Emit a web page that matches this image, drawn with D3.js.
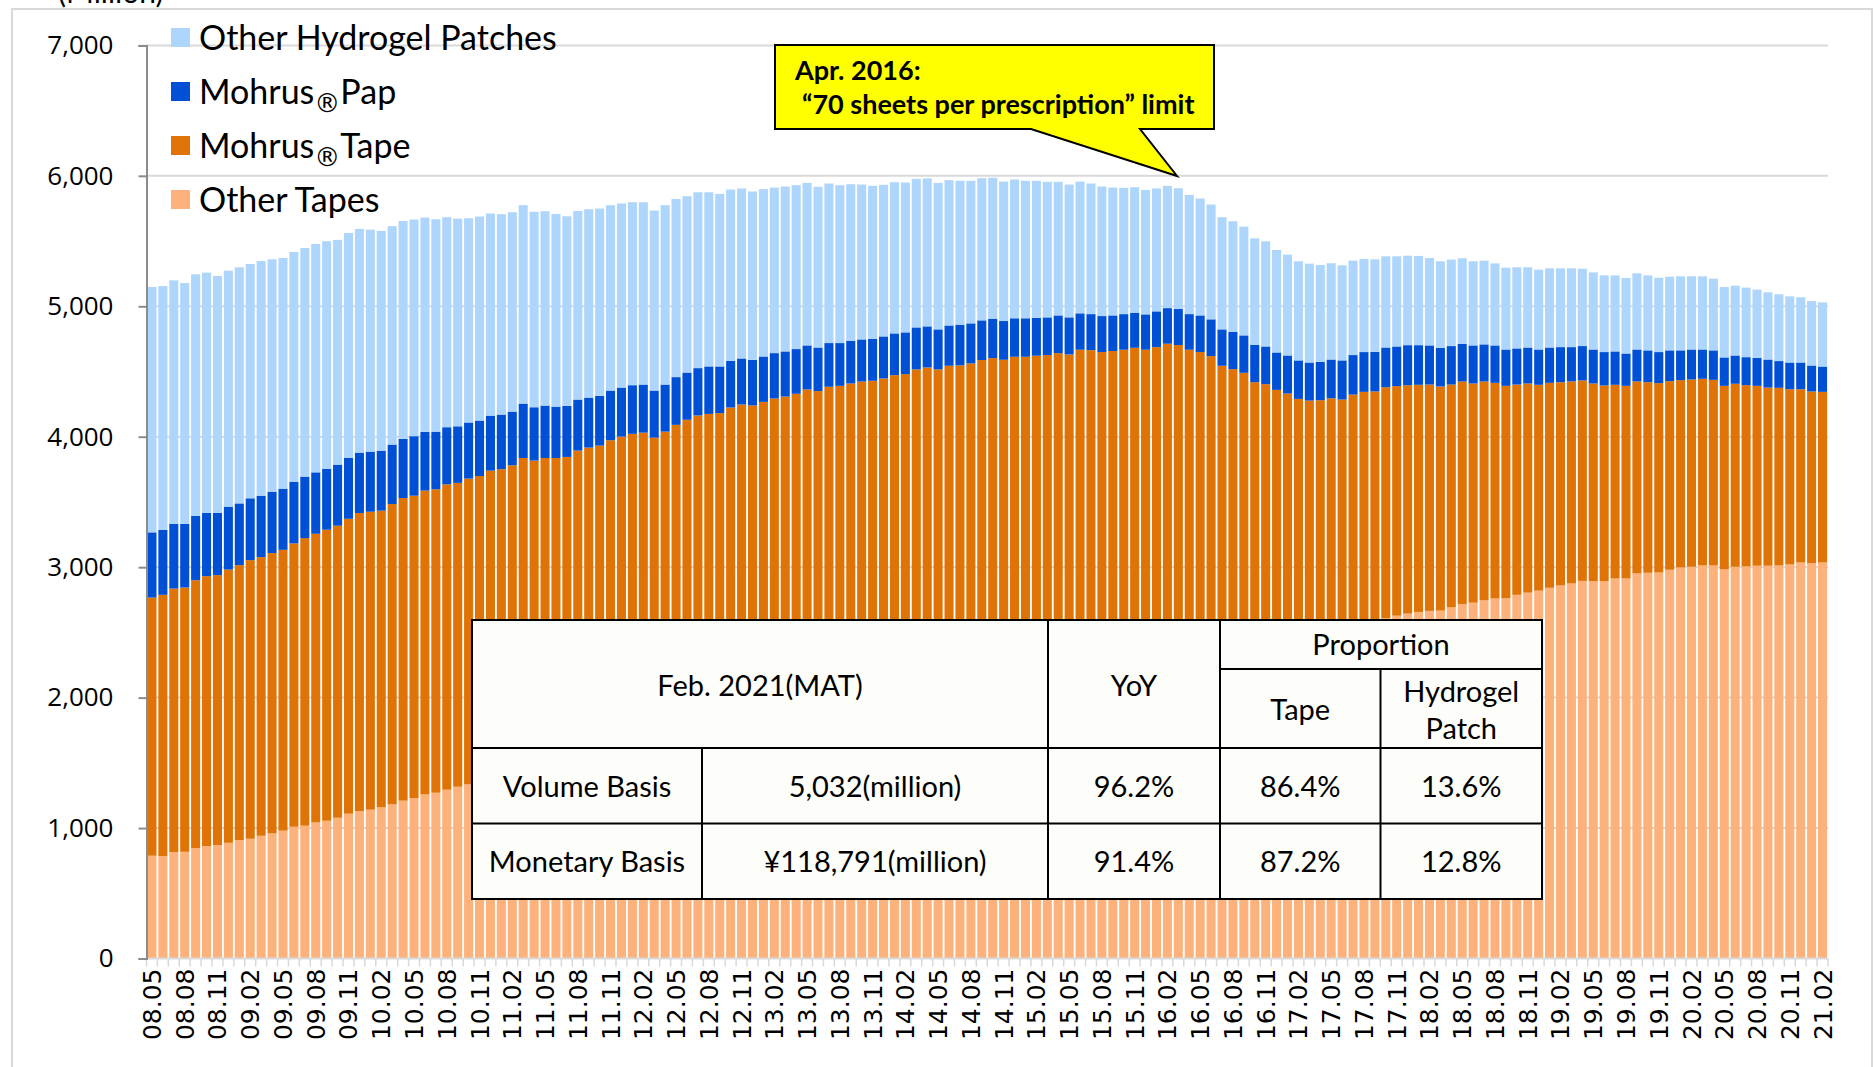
<!DOCTYPE html>
<html>
<head>
<meta charset="utf-8">
<script src="https://cdn.jsdelivr.net/npm/d3@7"></script>
<style>
  body { margin: 0; background: #fff; }
  svg { display: block; }
</style>
</head>
<body>
<svg id="chart" width="1874" height="1067"></svg>
<script>
// ---- data (million sheets, moving annual total, monthly from 08.05 to 21.02) ----
var startYear = 2008, startMonth = 5, monthCount = 154;

var otherTapes = [
  788, 785, 816, 818, 847, 862, 870, 887, 908, 918,
  941, 959, 980, 1010, 1018, 1043, 1056, 1079, 1110, 1130,
  1141, 1159, 1182, 1210, 1230, 1258, 1271, 1294, 1317, 1335,
  1351, 1364, 1382, 1396, 1410, 1427, 1441, 1455, 1472, 1486,
  1500, 1517, 1530, 1546, 1562, 1575, 1588, 1606, 1622, 1636,
  1650, 1667, 1680, 1696, 1712, 1725, 1740, 1757, 1770, 1786,
  1802, 1815, 1830, 1846, 1861, 1875, 1891, 1906, 1920, 1937,
  1952, 1965, 1980, 1996, 2011, 2025, 2042, 2056, 2070, 2086,
  2101, 2116, 2131, 2147, 2160, 2177, 2192, 2205, 2220, 2236,
  2251, 2266, 2281, 2297, 2310, 2326, 2341, 2356, 2371, 2386,
  2401, 2416, 2431, 2446, 2461, 2476, 2490, 2505, 2521, 2536,
  2550, 2566, 2585, 2608, 2628, 2644, 2657, 2665, 2667, 2692,
  2718, 2728, 2746, 2760, 2762, 2788, 2805, 2820, 2842, 2860,
  2875, 2895, 2893, 2893, 2913, 2913, 2952, 2957, 2959, 2980,
  2998, 3003, 3013, 3013, 2983, 3003, 3006, 3011, 3011, 3013,
  3021, 3036, 3031, 3036
];

var mohrusTape = [
  1979, 2003, 2020, 2026, 2053, 2069, 2069, 2095, 2108, 2136,
  2136, 2149, 2153, 2172, 2205, 2213, 2231, 2239, 2261, 2285,
  2284, 2274, 2302, 2320, 2318, 2329, 2326, 2341, 2329, 2344,
  2348, 2376, 2369, 2385, 2427, 2390, 2396, 2382, 2373, 2408,
  2417, 2415, 2443, 2455, 2460, 2456, 2405, 2433, 2469, 2494,
  2513, 2508, 2501, 2528, 2535, 2515, 2527, 2536, 2538, 2543,
  2560, 2535, 2553, 2544, 2547, 2548, 2538, 2541, 2552, 2543,
  2564, 2566, 2536, 2548, 2536, 2537, 2546, 2547, 2520, 2527,
  2512, 2505, 2495, 2494, 2471, 2490, 2472, 2444, 2437, 2431,
  2431, 2401, 2406, 2416, 2393, 2341, 2308, 2262, 2173, 2132,
  2089, 2002, 1972, 1913, 1870, 1814, 1787, 1775, 1774, 1749,
  1773, 1778, 1762, 1772, 1760, 1751, 1741, 1735, 1718, 1708,
  1705, 1680, 1677, 1653, 1628, 1612, 1603, 1578, 1571, 1558,
  1549, 1536, 1515, 1500, 1485, 1477, 1472, 1461, 1452, 1446,
  1436, 1436, 1431, 1423, 1407, 1403, 1389, 1379, 1366, 1362,
  1343, 1328, 1316, 1308
];

var mohrusPap = [
  500, 499, 497, 489, 494, 486, 478, 482, 473, 474,
  471, 471, 469, 471, 471, 471, 468, 468, 466, 463,
  461, 460, 456, 453, 456, 450, 442, 438, 434, 430,
  425, 422, 419, 412, 417, 409, 402, 394, 391, 391,
  383, 381, 381, 376, 373, 369, 361, 361, 366, 362,
  363, 364, 358, 358, 353, 350, 348, 348, 346, 343,
  338, 334, 335, 328, 328, 323, 322, 322, 320, 320,
  322, 315, 307, 309, 312, 307, 304, 302, 297, 295,
  295, 291, 289, 289, 284, 279, 276, 276, 273, 273,
  269, 271, 274, 273, 276, 273, 281, 282, 279, 285,
  287, 287, 289, 287, 292, 295, 292, 294, 297, 300,
  303, 305, 304, 304, 304, 307, 304, 300, 297, 295,
  290, 292, 285, 287, 279, 277, 276, 271, 271, 269,
  263, 264, 261, 256, 256, 248, 245, 244, 238, 236,
  228, 230, 225, 226, 218, 217, 215, 215, 215, 205,
  205, 205, 199, 194
];

var otherHydrogel = [
  1881, 1868, 1866, 1845, 1851, 1841, 1815, 1809, 1810, 1796,
  1799, 1781, 1768, 1763, 1753, 1751, 1744, 1723, 1725, 1715,
  1702, 1685, 1674, 1671, 1661, 1643, 1628, 1610, 1592, 1566,
  1564, 1549, 1536, 1528, 1521, 1498, 1490, 1477, 1454, 1446,
  1444, 1436, 1421, 1411, 1403, 1398, 1380, 1375, 1366, 1352,
  1348, 1335, 1323, 1313, 1303, 1290, 1283, 1269, 1264, 1256,
  1246, 1232, 1223, 1210, 1200, 1187, 1172, 1162, 1159, 1149,
  1139, 1134, 1123, 1114, 1103, 1093, 1090, 1080, 1069, 1064,
  1054, 1050, 1039, 1024, 1018, 1010, 1001, 993, 980, 968,
  962, 954, 942, 937, 926, 914, 896, 880, 860, 849,
  834, 816, 806, 786, 773, 760, 758, 743, 738, 729,
  724, 714, 709, 699, 691, 686, 684, 670, 663, 663,
  655, 645, 642, 629, 627, 622, 615, 612, 607, 604,
  604, 593, 591, 588, 583, 579, 584, 575, 570, 565,
  568, 561, 561, 550, 540, 535, 533, 523, 515, 512,
  507, 500, 494, 492
];

var yTicks = [0, 1000, 2000, 3000, 4000, 5000, 6000, 7000];

var seriesKeys = ["otherTapes", "mohrusTape", "mohrusPap", "otherHydrogel"];
var seriesColors = {
  otherTapes: "#fdb27b",
  mohrusTape: "#e07306",
  mohrusPap: "#0050d6",
  otherHydrogel: "#aed5fb"
};
// legend, top to bottom
var legendItems = [
  { key: "otherHydrogel", pre: "Other Hydrogel Patches", post: null },
  { key: "mohrusPap", pre: "Mohrus", post: "Pap" },
  { key: "mohrusTape", pre: "Mohrus", post: "Tape" },
  { key: "otherTapes", pre: "Other Tapes", post: null }
];

var tableHeader = { period: "Feb. 2021(MAT)", yoy: "YoY", prop: "Proportion", tape: "Tape", gel1: "Hydrogel", gel2: "Patch" };
var tableRows = [
  ["Volume Basis", "5,032(million)", "96.2%", "86.4%", "13.6%"],
  ["Monetary Basis", "\u00a5118,791(million)", "91.4%", "87.2%", "12.8%"]
];

// month labels yy.mm
var months = [];
for (var i = 0; i < monthCount; i++) {
  var m = startMonth - 1 + i;
  var yy = (startYear + Math.floor(m / 12)) % 100;
  var mm = (m % 12) + 1;
  months.push((yy < 10 ? "0" : "") + yy + "." + (mm < 10 ? "0" : "") + mm);
}
var rows = months.map(function(mo, i) {
  return {
    month: mo,
    otherTapes: otherTapes[i],
    mohrusTape: mohrusTape[i],
    mohrusPap: mohrusPap[i],
    otherHydrogel: otherHydrogel[i]
  };
});

// ---- layout ----
var plotLeft = 146.5, plotRight = 1828, plotTop = 45.4, plotBottom = 958.5;
var textFont = "Lato, 'Open Sans', sans-serif";

var svg = d3.select("#chart");

// outer frame
svg.append("rect")
  .attr("x", 12).attr("y", 9)
  .attr("width", 1860).attr("height", 1080)
  .attr("fill", "none")
  .attr("stroke", "#d9d9d9")
  .attr("stroke-width", 2);

// unit label (cut off at the top like the original)
svg.append("text")
  .attr("x", 58).attr("y", 3)
  .attr("font-family", textFont)
  .attr("font-size", 30)
  .attr("fill", "#000")
  .text("(Million)");

var x = d3.scaleBand()
  .domain(months)
  .range([plotLeft, plotRight])
  .paddingInner(0.17)
  .paddingOuter(0.085);

var y = d3.scaleLinear()
  .domain([0, 7000])
  .range([plotBottom, plotTop]);

// grid lines
svg.append("g")
  .selectAll("line")
  .data(yTicks.filter(function(d) { return d > 0; }))
  .enter().append("line")
  .attr("x1", plotLeft).attr("x2", plotRight)
  .attr("y1", function(d) { return y(d); })
  .attr("y2", function(d) { return y(d); })
  .attr("stroke", "#d9d9d9")
  .attr("stroke-width", 2);

// stacked bars
var stack = d3.stack().keys(seriesKeys);
var layers = stack(rows);

svg.append("g")
  .selectAll("g")
  .data(layers)
  .enter().append("g")
  .attr("fill", function(d) { return seriesColors[d.key]; })
  .selectAll("rect")
  .data(function(d) { return d; })
  .enter().append("rect")
  .attr("x", function(d) { return x(d.data.month); })
  .attr("width", x.bandwidth())
  .attr("y", function(d) { return y(d[1]); })
  .attr("height", function(d) { return y(d[0]) - y(d[1]); });

// x axis: baseline + small ticks at bar boundaries
var gap = x.step() - x.bandwidth();
svg.append("line")
  .attr("x1", plotLeft).attr("x2", plotRight)
  .attr("y1", plotBottom).attr("y2", plotBottom)
  .attr("stroke", "#d9d9d9")
  .attr("stroke-width", 2);
svg.append("g")
  .selectAll("line")
  .data(months)
  .enter().append("line")
  .attr("x1", function(d) { return x(d) - gap / 2; })
  .attr("x2", function(d) { return x(d) - gap / 2; })
  .attr("y1", plotBottom).attr("y2", plotBottom + 8)
  .attr("stroke", "#d9d9d9")
  .attr("stroke-width", 1.5);
svg.append("line")
  .attr("x1", plotRight).attr("x2", plotRight)
  .attr("y1", plotBottom).attr("y2", plotBottom + 8)
  .attr("stroke", "#d9d9d9")
  .attr("stroke-width", 1.5);

var xAxis = svg.append("g")
  .attr("transform", "translate(0," + plotBottom + ")")
  .call(d3.axisBottom(x)
    .tickValues(months.filter(function(d, i) { return i % 3 === 0; }))
    .tickSize(0));
xAxis.select(".domain").remove();
xAxis.selectAll("text")
  .attr("transform", "rotate(-90)")
  .attr("text-anchor", "end")
  .attr("x", -10)
  .attr("y", 0)
  .attr("dy", "0.36em")
  .attr("font-family", "'DejaVu Sans', sans-serif")
  .attr("font-size", 25)
  .attr("fill", "#000");

// y axis
var yAxis = svg.append("g")
  .attr("transform", "translate(" + plotLeft + ",0)")
  .call(d3.axisLeft(y)
    .tickValues(yTicks)
    .tickSize(8)
    .tickPadding(25)
    .tickFormat(d3.format(",")));
yAxis.select(".domain").attr("stroke", "#8c8c8c").attr("stroke-width", 2);
yAxis.selectAll(".tick line").attr("stroke", "#8c8c8c").attr("stroke-width", 2);
yAxis.selectAll("text")
  .attr("font-family", "'Open Sans', sans-serif")
  .attr("font-size", 26)
  .attr("fill", "#000");

// legend
var legend = svg.append("g");
legendItems.forEach(function(item, i) {
  var cy = 38 + i * 54;
  legend.append("rect")
    .attr("x", 171).attr("y", cy - 10)
    .attr("width", 19).attr("height", 19)
    .attr("fill", seriesColors[item.key]);
  var t = legend.append("text")
    .attr("x", 199).attr("y", cy + 12)
    .attr("font-family", textFont)
    .attr("font-size", 34)
    .attr("fill", "#000");
  t.append("tspan").text(item.pre);
  if (item.post) {
    t.append("tspan")
      .attr("font-family", "'DejaVu Sans', sans-serif")
      .attr("font-size", 26)
      .attr("dy", 8)
      .text("\u00ae");
    t.append("tspan").attr("dy", -8).text(item.post);
  }
});

// callout
var callout = svg.append("g");
var pts = [[775, 45], [1214, 45], [1214, 129], [1140, 129], [1177, 176], [1031, 129], [775, 129]];
callout.append("polygon")
  .attr("points", pts.map(function(p) { return p.join(","); }).join(" "))
  .attr("fill", "#ffff00")
  .attr("stroke", "#000")
  .attr("stroke-width", 2)
  .attr("stroke-linejoin", "miter");
callout.append("text")
  .attr("x", 795).attr("y", 80)
  .attr("font-family", textFont)
  .attr("font-weight", "bold")
  .attr("font-size", 27)
  .text("Apr. 2016:");
callout.append("text")
  .attr("x", 802).attr("y", 114)
  .attr("font-family", textFont)
  .attr("font-weight", "bold")
  .attr("font-size", 27)
  .text("\u201c70 sheets per prescription\u201d limit");

// summary table
var tbl = svg.append("g");
var tL = 472, tR = 1542, tT = 620, tB = 899;
var c1 = 702, c2 = 1048, c3 = 1220, c4 = 1380.5;
var r0 = 669, r1 = 748, r2 = 823.5;
tbl.append("rect")
  .attr("x", tL).attr("y", tT)
  .attr("width", tR - tL).attr("height", tB - tT)
  .attr("fill", "#fdfdf9")
  .attr("stroke", "#000").attr("stroke-width", 2);
var tLines = [
  [tL, r1, tR, r1], [tL, r2, tR, r2], [c3, r0, tR, r0],
  [c1, r1, c1, tB], [c2, tT, c2, tB], [c3, tT, c3, tB], [c4, r0, c4, tB]
];
tbl.selectAll("line.grid")
  .data(tLines)
  .enter().append("line")
  .attr("x1", function(d) { return d[0]; })
  .attr("y1", function(d) { return d[1]; })
  .attr("x2", function(d) { return d[2]; })
  .attr("y2", function(d) { return d[3]; })
  .attr("stroke", "#000").attr("stroke-width", 2);

function cell(cx, cy, txt) {
  tbl.append("text")
    .attr("x", cx).attr("y", cy)
    .attr("dy", "0.35em")
    .attr("text-anchor", "middle")
    .attr("font-family", textFont)
    .attr("font-size", 29)
    .attr("fill", "#000")
    .text(txt);
}
cell((tL + c2) / 2, 686, tableHeader.period);
cell((c2 + c3) / 2, 686, tableHeader.yoy);
cell((c3 + tR) / 2, 645, tableHeader.prop);
cell((c3 + c4) / 2, 710, tableHeader.tape);
cell((c4 + tR) / 2, 692, tableHeader.gel1);
cell((c4 + tR) / 2, 729, tableHeader.gel2);
var colCenters = [(tL + c1) / 2, (c1 + c2) / 2, (c2 + c3) / 2, (c3 + c4) / 2, (c4 + tR) / 2];
var rowCenters = [787, 862];
tableRows.forEach(function(r, ri) {
  r.forEach(function(v, ci) { cell(colCenters[ci], rowCenters[ri], v); });
});
</script>
</body>
</html>
